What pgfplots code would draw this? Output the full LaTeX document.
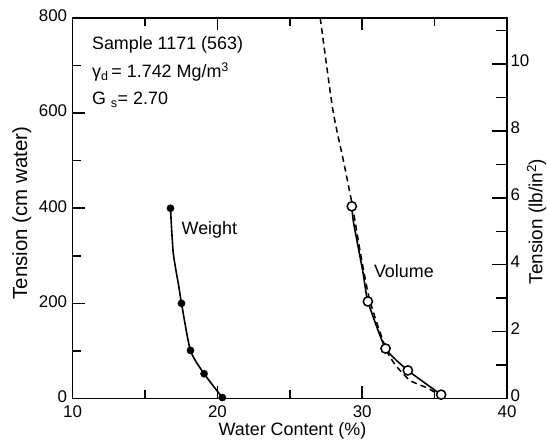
\documentclass[border=0pt]{standalone}
\usepackage{pgfplots}
\pgfplotsset{compat=1.18}
\usepackage{fontspec}
\setmainfont{Liberation Sans}

\begin{document}
\begin{tikzpicture}
\pgfplotsset{
  every axis/.append style={
    scale only axis, width=435bp, height=381bp,
    xmin=10, xmax=40,
    font=\fontsize{17}{20}\selectfont,
    /pgf/number format/assume math mode=true,
    axis line style={line width=1.6bp},
    tick style={line width=1.5bp, black},
    tick align=inside,
    major tick length=12bp, minor tick length=8bp,
  },
}
\begin{axis}[
  name=ax,
  ymin=0, ymax=800,
  xtick={10,20,30,40}, minor xtick={15,25,35},
  ytick={0,200,...,800}, minor ytick={100,300,500,700},
  xtick pos=both, ytick pos=left,
  xticklabel style={yshift=-4bp},
  yticklabel style={xshift=-2bp, yshift=2bp},
  xlabel={Water Content (\%)},
  ylabel={Tension (cm water)},
  xlabel style={at={(axis description cs:0.506,-0.086)}, anchor=center, font=\fontsize{18}{21}\selectfont},
  ylabel style={at={(axis description cs:-0.1166,0.487)}, anchor=center, font=\fontsize{20.5}{24}\selectfont},
  ]
  % Weight (filled)
  \addplot[black, line width=1.6bp, smooth, tension=0.4] coordinates {
    (16.76,400) (16.95,306) (17.33,236) (17.52,200) (18.14,101) (19.08,52) (20.34,2)
  };
  \addplot[only marks, mark=*, mark size=3.6bp, black] coordinates {
    (16.76,400) (17.52,200) (18.14,101) (19.08,52) (20.34,2)
  };
  % Volume (dashed)
  \addplot[black, line width=1.5bp, dash pattern=on 6bp off 4bp, smooth, tension=0.4] coordinates {
    (27.10,800) (27.97,607) (28.70,500) (29.33,404) (29.85,310) (30.45,215)
    (31.00,160) (31.70,100) (32.30,70) (33.30,38) (34.50,22) (35.45,5)
  };
  % Volume (solid)
  \addplot[black, line width=1.6bp, smooth, tension=0.3] coordinates {
    (29.28,404) (29.40,370) (30.04,267) (30.39,204) (31.61,105) (33.15,59) (35.45,8)
  };
  \addplot[only marks, mark=*, mark size=4.6bp, black, fill=white, line width=1.5bp] coordinates {
    (29.28,404) (30.39,204) (31.61,105) (33.15,59) (35.45,8)
  };
  \begin{scope}[font=\fontsize{18}{21}\selectfont]
  \node[anchor=west, inner sep=0pt] at (axis cs:11.33,744) {Sample 1171 (563)};
  \node[anchor=west, inner sep=0pt] at (axis cs:11.33,687) {γ\textsubscript{d}\,= 1.742 Mg/m\textsuperscript{3}};
  \node[anchor=west, inner sep=0pt] at (axis cs:11.33,628) {G \textsubscript{s}= 2.70};
  \node[anchor=west, inner sep=0pt] at (axis cs:17.52,355) {Weight};
  \node[anchor=west, inner sep=0pt] at (axis cs:30.80,267) {Volume};
  \end{scope}
\end{axis}
\begin{axis}[
  ymin=0, ymax=11.378,
  axis x line=none, axis y line*=right,
  ytick={0,2,...,10}, minor ytick={1,3,...,11},
  major tick length=15bp, minor tick length=11bp,
  yticklabel style={yshift=3bp},
  ylabel={Tension (lb/in\textsuperscript{2})},
  ylabel style={at={(axis description cs:1.068,0.465)}, anchor=center, font=\fontsize{19}{22}\selectfont},
  ]
\end{axis}
\pgfresetboundingbox
\path[use as bounding box] ([shift={(-72.7bp,-43bp)}]ax.south west) rectangle ([shift={(40bp,18bp)}]ax.north east);
\end{tikzpicture}
\end{document}
